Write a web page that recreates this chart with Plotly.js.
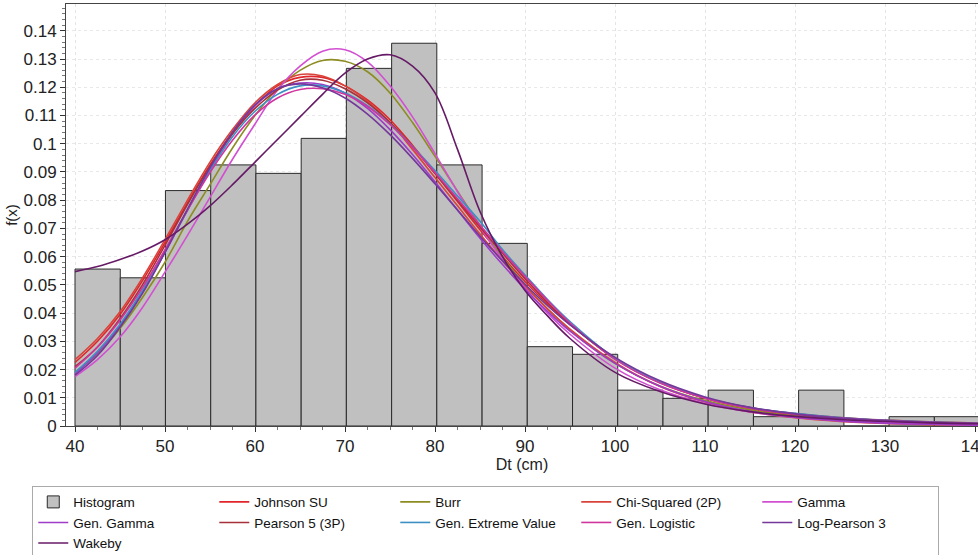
<!DOCTYPE html>
<html>
<head>
<meta charset="utf-8">
<script src="https://cdn.plot.ly/plotly-3.0.1.min.js"></script>
<style>html,body{margin:0;padding:0;background:#fff;}#chart{width:978px;height:555px;}</style>
</head>
<body>
<div id="chart"></div>
<script>
// Histogram bins (Dt, cm) and bar heights (relative frequency per bin)
var binEdges = [40, 45.03, 50.05, 55.08, 60.1, 65.13, 70.15, 75.18, 80.2, 85.23, 90.25,
                95.28, 100.3, 105.33, 110.35, 115.38, 120.4, 125.43, 130.45, 135.48, 140.5];
var histValues = [0.0556, 0.0525, 0.0834, 0.0925, 0.0895, 0.1019, 0.1267, 0.1356, 0.0925, 0.0647,
                  0.0281, 0.0254, 0.0127, 0.0098, 0.0127, 0.0033, 0.0127, 0, 0.0033, 0.0033];

// x positions where fitted curves were read
var xs = [40, 42.5, 45, 47.5, 50, 52.5, 55, 57.5, 60, 62.5, 65, 67.5, 70, 72.5, 75, 77.5, 80, 82.5,
          85, 87.5, 90, 92.5, 95, 100, 105, 110, 115, 120, 125, 130, 135, 140.5];

var johnsonSU = [0.0225, 0.030, 0.0395, 0.0515, 0.065, 0.079, 0.0925, 0.104, 0.1135, 0.1205, 0.1235, 0.1235,
                 0.1205, 0.1155, 0.1085, 0.0995, 0.0895, 0.0795, 0.0695, 0.0600, 0.0512, 0.0432, 0.0360,
                 0.0240, 0.0155, 0.0098, 0.0061, 0.0038, 0.0024, 0.0015, 0.0010, 0.0006];
var burr = [0.019, 0.0255, 0.0345, 0.0455, 0.058, 0.0725, 0.0855, 0.0985, 0.110, 0.1195, 0.126, 0.1295,
            0.1292, 0.1255, 0.118, 0.1075, 0.0955, 0.0832, 0.071, 0.0598, 0.050, 0.0415, 0.034,
            0.0222, 0.0142, 0.0090, 0.0057, 0.0036, 0.0024, 0.0016, 0.0011, 0.0007];
var chiSquared2P = [0.0235, 0.031, 0.0405, 0.0525, 0.066, 0.080, 0.0935, 0.105, 0.1145, 0.121, 0.1245, 0.124,
                    0.1205, 0.115, 0.1075, 0.098, 0.088, 0.078, 0.068, 0.0585, 0.0495, 0.0415, 0.0343,
                    0.0225, 0.0140, 0.0085, 0.0050, 0.0029, 0.0016, 0.0009, 0.0005, 0.0003];
var gamma = [0.0175, 0.0235, 0.0315, 0.042, 0.0545, 0.0675, 0.081, 0.0945, 0.107, 0.119, 0.1275, 0.1328,
             0.1333, 0.129, 0.1205, 0.1095, 0.0965, 0.083, 0.0705, 0.059, 0.049, 0.040, 0.0325,
             0.0205, 0.0128, 0.0080, 0.0050, 0.0031, 0.0019, 0.0012, 0.0007, 0.0004];
var genGamma = [0.0185, 0.026, 0.0355, 0.0475, 0.0615, 0.0765, 0.091, 0.1035, 0.1135, 0.1195, 0.1215, 0.121,
                0.118, 0.1125, 0.105, 0.0962, 0.0865, 0.0765, 0.0665, 0.0572, 0.0485, 0.0406, 0.0336,
                0.0222, 0.0141, 0.0087, 0.0052, 0.0031, 0.0018, 0.0010, 0.0006, 0.0003];
var pearson5 = [0.021, 0.028, 0.038, 0.050, 0.064, 0.0785, 0.092, 0.1035, 0.1125, 0.119, 0.1225, 0.1225,
                0.1195, 0.1145, 0.1075, 0.099, 0.0895, 0.080, 0.0705, 0.0612, 0.0522, 0.0438, 0.0362,
                0.0238, 0.0153, 0.0099, 0.0065, 0.0044, 0.0030, 0.0021, 0.0015, 0.0010];
var genExtremeValue = [0.019, 0.0265, 0.036, 0.048, 0.062, 0.0765, 0.0905, 0.1025, 0.1115, 0.1175, 0.1205, 0.1205,
                       0.118, 0.1135, 0.107, 0.099, 0.0905, 0.0815, 0.0725, 0.0625, 0.0535, 0.0448, 0.037,
                       0.0240, 0.0155, 0.0100, 0.0065, 0.0045, 0.0030, 0.0020, 0.0014, 0.0009];
var genLogistic = [0.0205, 0.028, 0.0375, 0.049, 0.0625, 0.0765, 0.0898, 0.1012, 0.1102, 0.1162, 0.1192, 0.1195,
                   0.1175, 0.1132, 0.1068, 0.0988, 0.0898, 0.0805, 0.0712, 0.0618, 0.053, 0.0445, 0.0365,
                   0.0236, 0.0152, 0.0098, 0.0063, 0.0042, 0.0028, 0.0019, 0.0013, 0.0009];
var logPearson3 = [0.018, 0.025, 0.035, 0.047, 0.0615, 0.0768, 0.0915, 0.1042, 0.1138, 0.1195, 0.1212, 0.1198,
                   0.1162, 0.1105, 0.1032, 0.0948, 0.0858, 0.0765, 0.0672, 0.0585, 0.0502, 0.0426, 0.0358,
                   0.0243, 0.0160, 0.0103, 0.0066, 0.0043, 0.0028, 0.0019, 0.0013, 0.0009];
var wakeby = [0.0547, 0.0565, 0.059, 0.062, 0.066, 0.0715, 0.078, 0.0855, 0.0935, 0.1015, 0.1095, 0.1175,
              0.125, 0.130, 0.1315, 0.1275, 0.118, 0.098, 0.076, 0.060, 0.048, 0.039, 0.031,
              0.019, 0.0122, 0.0078, 0.0051, 0.0034, 0.0023, 0.0016, 0.0011, 0.0008];

var seriesNames = ["Johnson SU", "Burr", "Chi-Squared (2P)", "Gamma", "Gen. Gamma", "Pearson 5 (3P)",
                   "Gen. Extreme Value", "Gen. Logistic", "Log-Pearson 3", "Wakeby"];
var seriesData = [johnsonSU, burr, chiSquared2P, gamma, genGamma, pearson5,
                  genExtremeValue, genLogistic, logPearson3, wakeby];
var seriesColors = ["#E0262B", "#8C8C22", "#D8433A", "#D24FD2", "#9E3CC8", "#A8303A",
                    "#3C8FC4", "#D0359E", "#74379A", "#661A66"];

var centers = [], widths = [];
for (var i = 0; i < histValues.length; i++) {
  centers.push((binEdges[i] + binEdges[i + 1]) / 2);
  widths.push(binEdges[i + 1] - binEdges[i]);
}

var traces = [{
  type: "bar", name: "Histogram", x: centers, y: histValues, width: widths,
  marker: {color: "#C0C0C0", line: {color: "#2a2a2a", width: 1}},
  hoverinfo: "x+y"
}];
for (var k = 0; k < seriesNames.length; k++) {
  traces.push({
    type: "scatter", mode: "lines", name: seriesNames[k], x: xs, y: seriesData[k],
    line: {color: seriesColors[k], width: 1.6, shape: "spline", smoothing: 1.0}
  });
}

var fontFam = "Arial, 'Liberation Sans', sans-serif";
var layout = {
  width: 978, height: 555,
  margin: {l: 66, r: 0, t: 4, b: 129, pad: 0},
  paper_bgcolor: "#fff", plot_bgcolor: "#fff",
  font: {family: fontFam, color: "#222", size: 15},
  showlegend: true,
  bargap: 0,
  xaxis: {
    range: [39, 140.33], tickmode: "linear", tick0: 40, dtick: 10,
    ticks: "outside", ticklen: 5, tickcolor: "#333",
    showline: true, linecolor: "#444", linewidth: 1, mirror: true,
    showgrid: true, gridcolor: "#e4e4e4", griddash: "dot",
    zeroline: false, automargin: false, ticklabeloverflow: "allow",
    tickfont: {size: 17, family: fontFam, color: "#222"},
    minor: {dtick: 2.5, ticks: "outside", ticklen: 3, tickcolor: "#777", showgrid: false},
    title: {text: "Dt (cm)", font: {size: 16, family: fontFam, color: "#222"}, standoff: 2}
  },
  yaxis: {
    range: [0, 0.1495], tickmode: "linear", tick0: 0, dtick: 0.01,
    ticks: "outside", ticklen: 5, tickcolor: "#333",
    showline: true, linecolor: "#444", linewidth: 1, mirror: true,
    showgrid: true, gridcolor: "#e8e8e8", griddash: "dot",
    zeroline: false, automargin: false,
    tickfont: {size: 17, family: fontFam, color: "#222"},
    minor: {dtick: 0.002, ticks: "outside", ticklen: 3, tickcolor: "#777", showgrid: false},
    title: {text: "f(x)", font: {size: 15, family: fontFam, color: "#222"}, standoff: 2}
  },
  legend: {
    orientation: "h", xref: "container", yref: "container",
    x: 0.033, xanchor: "left", y: 0.125, yanchor: "top",
    bordercolor: "#aaa", borderwidth: 1, bgcolor: "#fff",
    font: {size: 13.5, family: fontFam, color: "#111"},
    entrywidth: 136, entrywidthmode: "pixels",
    itemwidth: 30, traceorder: "normal", tracegroupgap: 0
  }
};

Plotly.newPlot("chart", traces, layout, {displayModeBar: false, staticPlot: true});
</script>
</body>
</html>
